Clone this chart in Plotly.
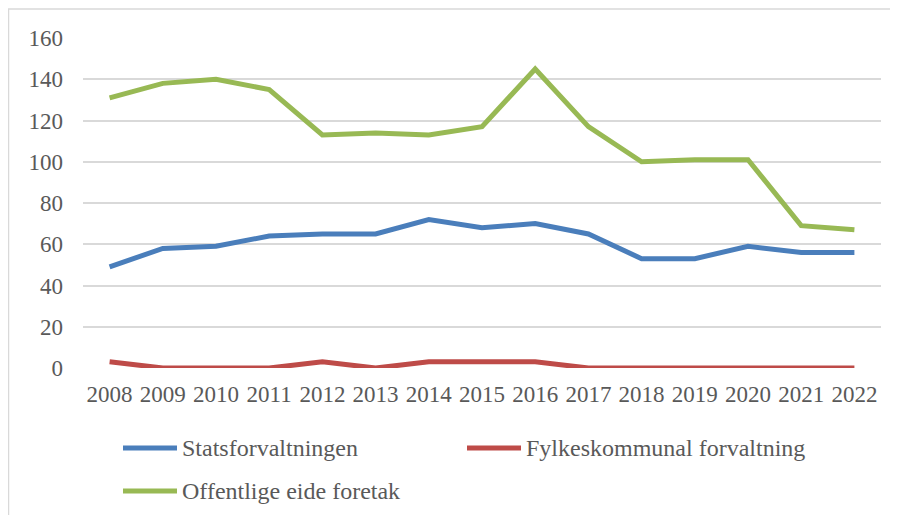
import plotly.graph_objects as go

years = [str(y) for y in range(2008, 2023)]
stats = [49, 58, 59, 64, 65, 65, 72, 68, 70, 65, 53, 53, 59, 56, 56]
fylke = [3, 0, 0, 0, 3, 0, 3, 3, 3, 0, 0, 0, 0, 0, 0]
foretak = [131, 138, 140, 135, 113, 114, 113, 117, 145, 117, 100, 101, 101, 69, 67]
names = ["Statsforvaltningen", "Fylkeskommunal forvaltning", "Offentlige eide foretak"]
colors = ["#4A7EBB", "#BE4B48", "#98B954"]
series = [stats, fylke, foretak]
y_ticks = [0, 20, 40, 60, 80, 100, 120, 140, 160]

# page is rendered with an 8px body margin; positions below are in page pixels
OFF = 8
W, H = 898, 515
L, R, T, B = 75, 25, 30, 155
pw, ph = W - L - R, H - T - B

def px(x):
    return (x - OFF - L) / pw

def py(y):
    return (H - B - (y - OFF)) / ph

fig = go.Figure()
for name, vals, c in zip(names, series, colors):
    fig.add_trace(go.Scatter(x=years, y=vals, name=name, mode="lines",
                             line=dict(color=c, width=5), showlegend=False))

family = "Liberation Serif, Times New Roman, serif"
font = dict(family=family, size=23, color="#595959")

shapes = [
    dict(type="line", xref="paper", yref="paper", x0=px(8), x1=px(W + 20), y0=py(9), y1=py(9),
         line=dict(color="#D9D9D9", width=1.5)),
    dict(type="line", xref="paper", yref="paper", x0=px(8.5), x1=px(8.5), y0=py(9), y1=py(H + 20),
         line=dict(color="#D9D9D9", width=1.5)),
]
annotations = []
legend_pos = [(123, 448), (467, 448), (123, 491)]
for (lx, ly), name, c in zip(legend_pos, names, colors):
    shapes.append(dict(type="line", xref="paper", yref="paper", x0=px(lx), x1=px(lx + 54),
                       y0=py(ly), y1=py(ly), line=dict(color=c, width=5)))
    annotations.append(dict(xref="paper", yref="paper", x=px(lx + 57), y=py(ly), text=name,
                            showarrow=False, xanchor="left", yanchor="middle",
                            font=dict(family=family, size=24, color="#595959")))

fig.update_layout(
    width=W, height=H,
    margin=dict(l=L, r=R, t=T, b=B, autoexpand=False),
    paper_bgcolor="white", plot_bgcolor="white",
    font=font,
    shapes=shapes, annotations=annotations,
    xaxis=dict(type="category", showgrid=False, zeroline=False, showline=False,
               ticks="", tickfont=font, range=[-0.5, 14.5], ticklabelstandoff=10),
    yaxis=dict(range=[0, 160], tickvals=y_ticks, showgrid=True, gridcolor="#D9D9D9",
               gridwidth=1.5, zeroline=False, showline=False, ticks="",
               tickfont=font, ticklabelstandoff=19),
)
fig.write_html("out.html")
